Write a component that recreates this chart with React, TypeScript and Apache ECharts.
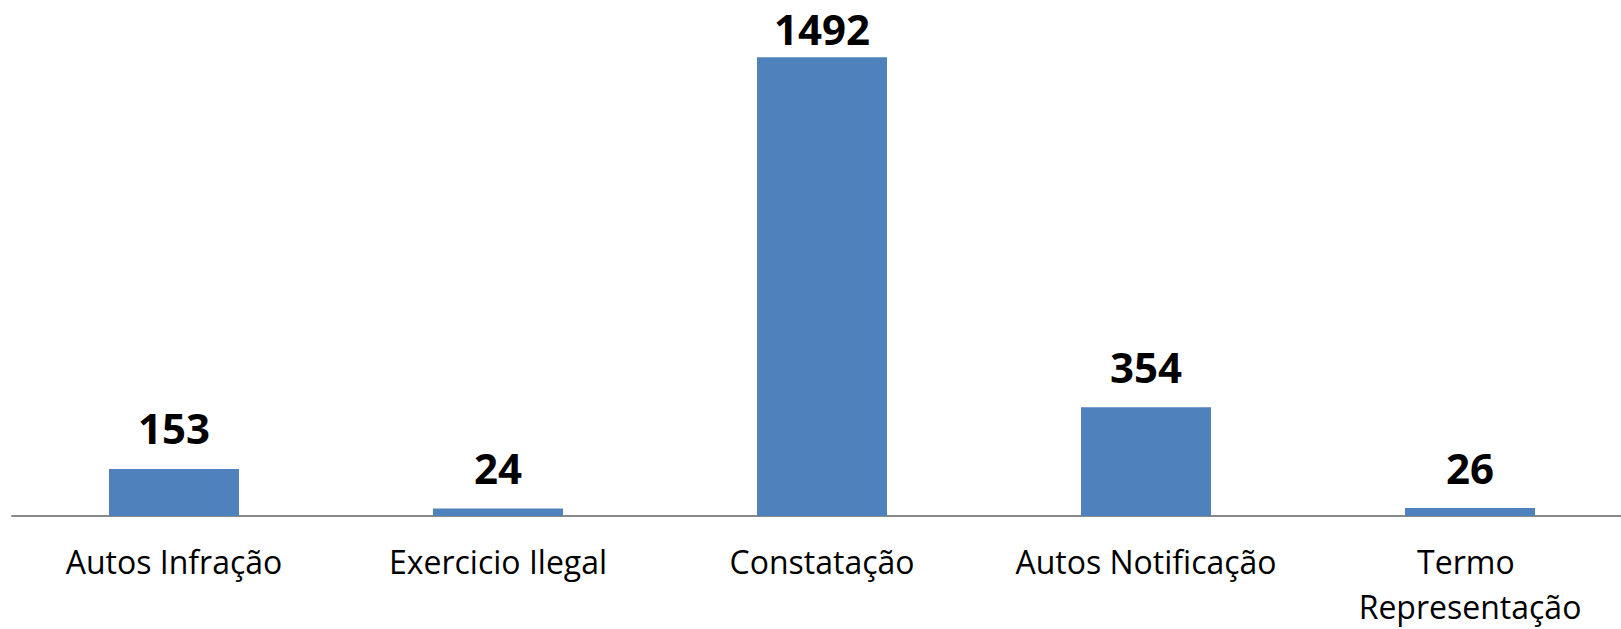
import React, { useEffect, useRef } from "react";
import * as echarts from "echarts";

const categories = ["Autos Infração", "Exercicio Ilegal", "Constatação", "Autos Notificação", "Termo Representação"];
const values = [153, 24, 1492, 354, 26];

export default function App() {
  const ref = useRef<HTMLDivElement>(null);
  useEffect(() => {
    const chart = echarts.init(ref.current!, null, { renderer: "svg" });
    const maxValue = Math.max(...values);
    chart.setOption({
      animation: false,
      grid: { left: 12, right: 0, top: 24, bottom: 112, containLabel: false },
      xAxis: {
        type: "category",
        data: categories,
        axisLine: { show: true, lineStyle: { color: "#888888", width: 2 } },
        axisTick: { show: false },
        axisLabel: {
          interval: 0,
          color: "#000000",
          fontFamily: "Open Sans",
          fontSize: 32,
          lineHeight: 45,
          margin: 23,
          width: 300,
          overflow: "break",
        },
      },
      yAxis: {
        type: "value",
        min: 0,
        max: 1600,
        show: false,
        splitLine: { show: false },
      },
      series: [
        {
          type: "bar",
          data: values.map((v) =>
            v === maxValue ? { value: v, label: { distance: 8 } } : v
          ),
          barWidth: 130,
          itemStyle: { color: "#4F81BD" },
          label: {
            show: true,
            position: "top",
            distance: 20,
            color: "#000000",
            fontFamily: "Open Sans",
            fontWeight: "bold",
            fontSize: 42,
          },
        },
      ],
    });
    return () => chart.dispose();
  }, []);
  return (
    <div
      style={{ position: "absolute", left: 0, top: 0, width: 1621, height: 629, overflow: "hidden" }}
    >
      <div ref={ref} style={{ width: 1632, height: 629 }} />
    </div>
  );
}
